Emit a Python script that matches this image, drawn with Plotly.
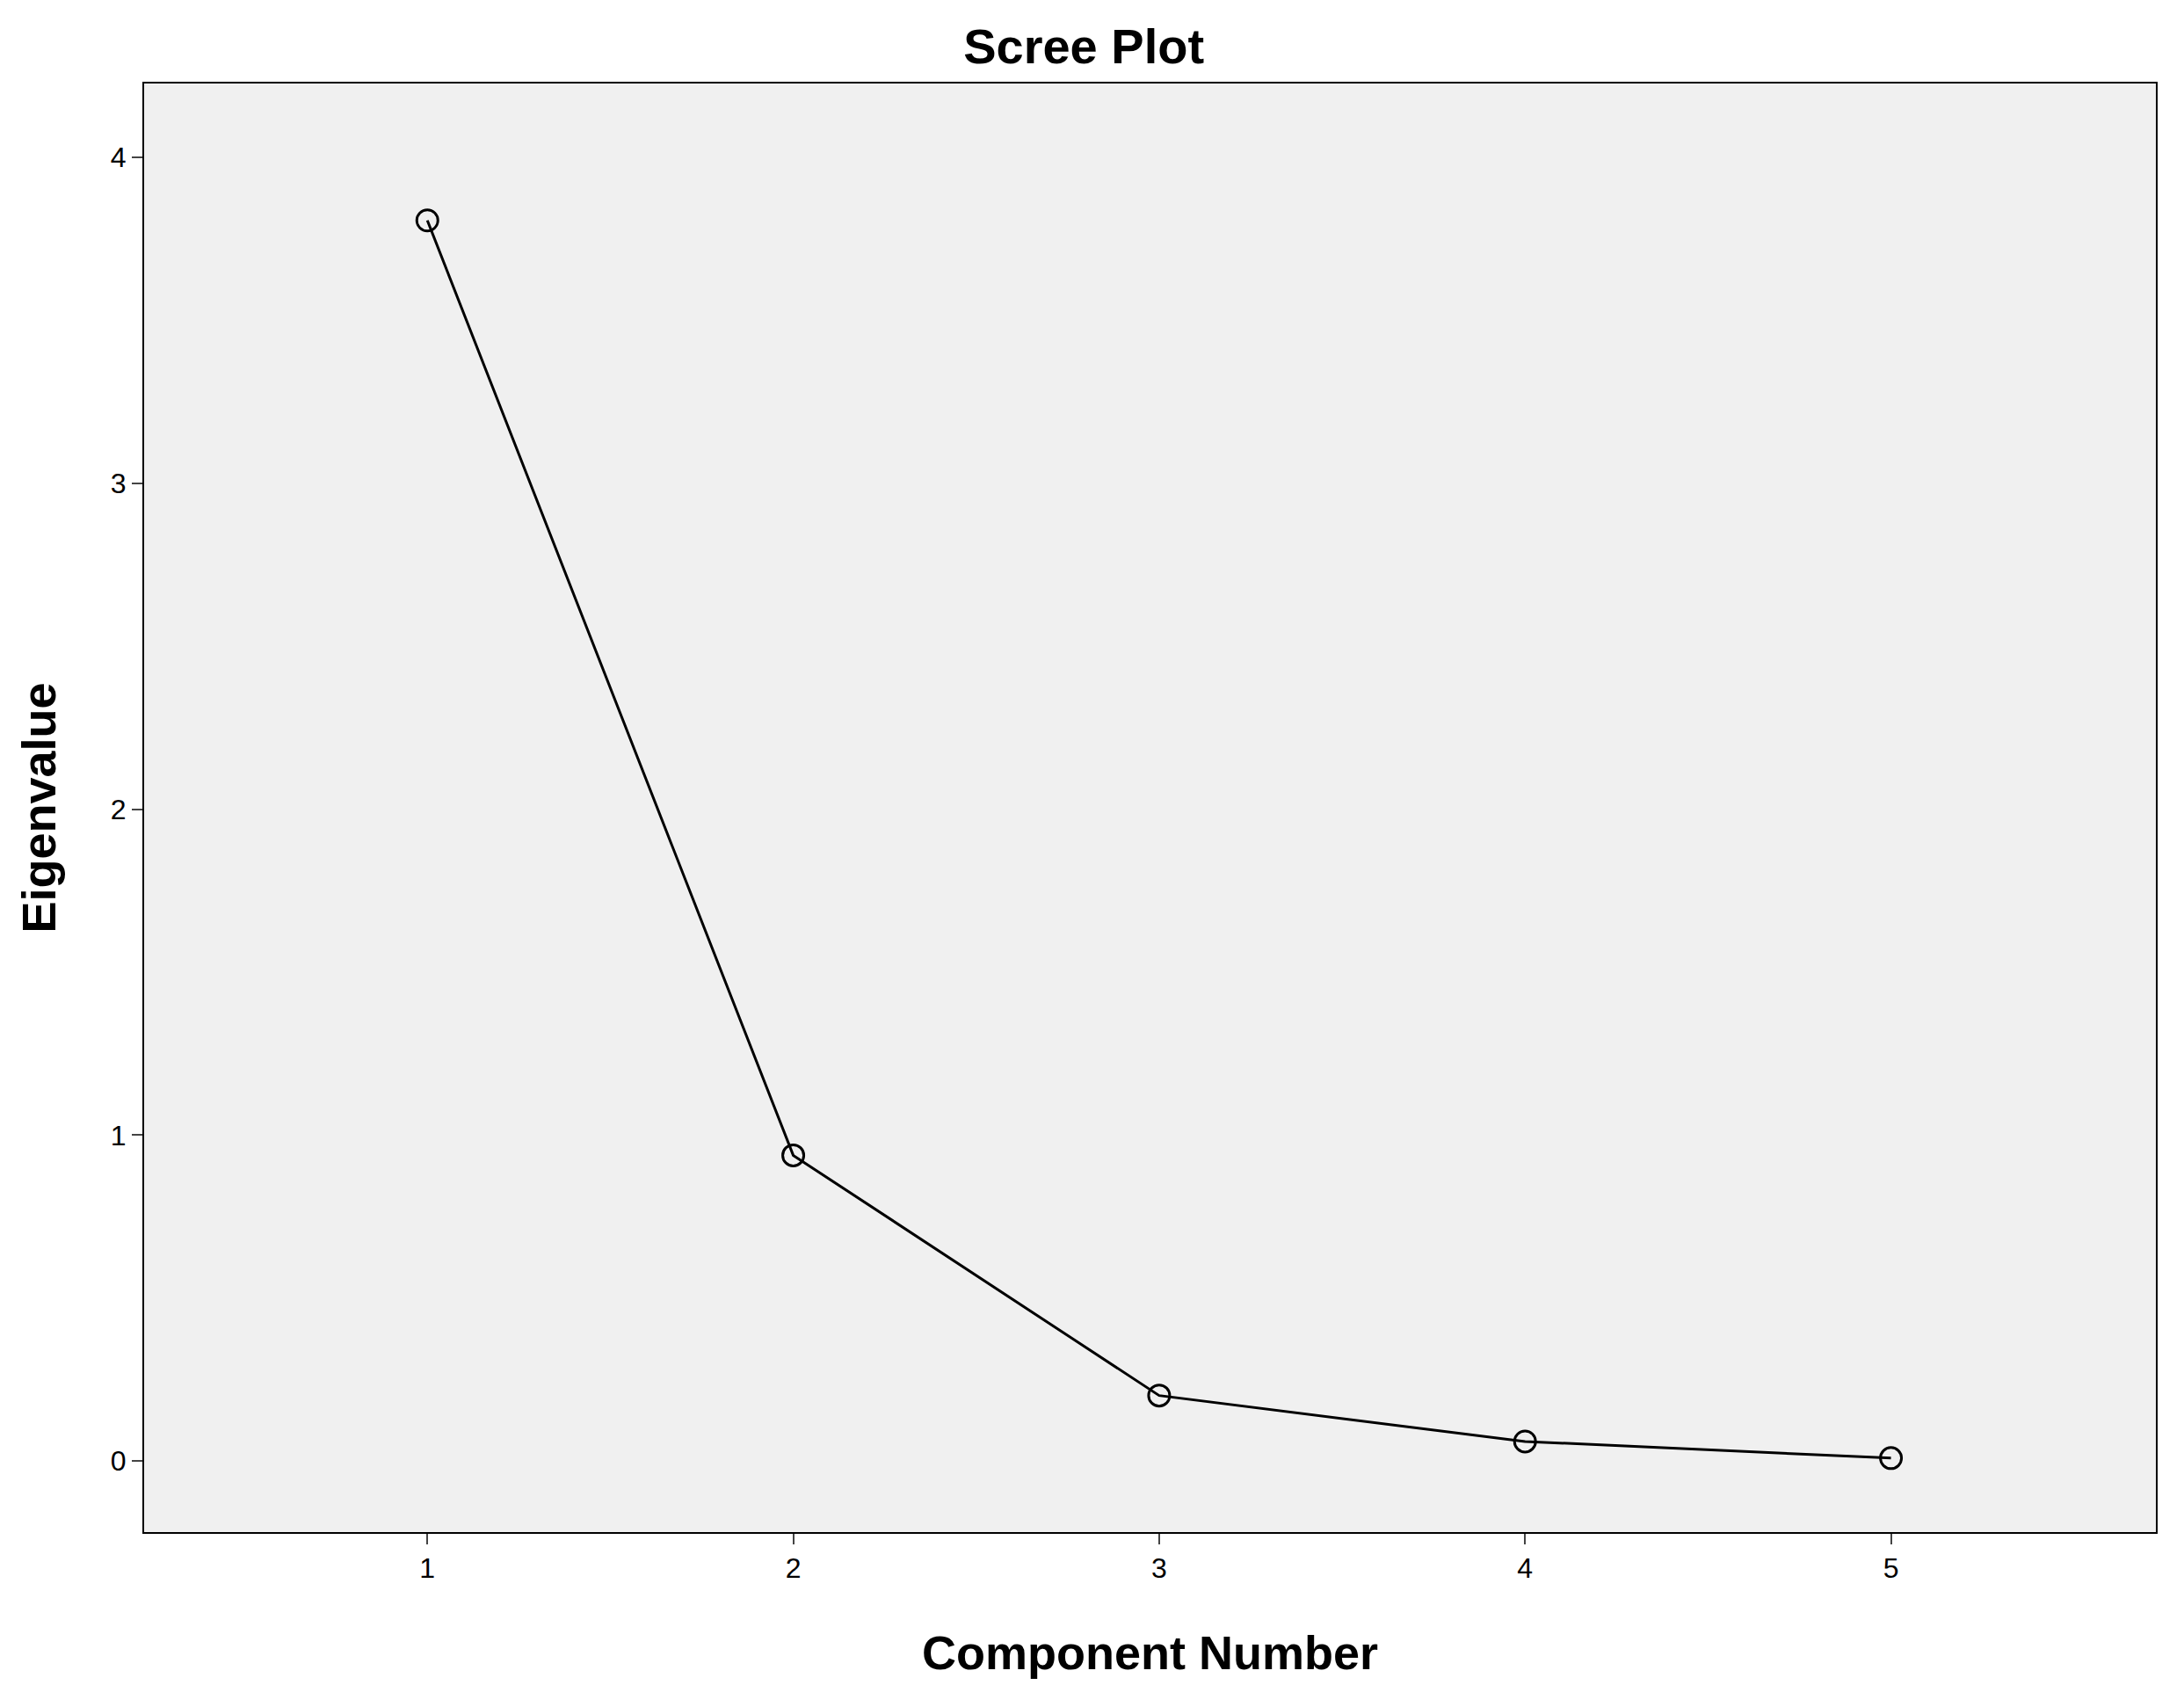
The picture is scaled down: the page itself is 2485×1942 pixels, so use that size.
import plotly.graph_objects as go

components = [1, 2, 3, 4, 5]
eigenvalues = [3.807, 0.938, 0.201, 0.060, 0.009]
y_ticks = [0, 1, 2, 3, 4]

fig = go.Figure(go.Scatter(
    x=components, y=eigenvalues, mode="lines+markers",
    line=dict(color="black", width=3),
    marker=dict(symbol="circle-open", size=24, color="black", line=dict(width=3)),
))
fig.update_layout(
    width=2485, height=1942,
    margin=dict(l=156, r=40, t=87, b=207),
    paper_bgcolor="white", plot_bgcolor="#f0f0f0",
    font=dict(family="Liberation Sans, Arial", color="black"),
    title=dict(text="<b>Scree Plot</b>", x=0.493, xanchor="center", y=0.977, yanchor="middle",
               font=dict(size=56)),
    showlegend=False,
)
fig.update_xaxes(range=[0.226, 5.724], tickvals=components, ticks="outside", ticklen=12,
                 tickwidth=2, tickfont=dict(size=32), showgrid=False, zeroline=False,
                 showline=True, linecolor="black", linewidth=2, mirror=True,
                 title=dict(text="<b>Component Number</b>", font=dict(size=54), standoff=60))
fig.update_yaxes(range=[-0.218, 4.227], tickvals=y_ticks, ticks="outside", ticklen=12,
                 tickwidth=2, tickfont=dict(size=32), showgrid=False, zeroline=False,
                 showline=True, linecolor="black", linewidth=2, mirror=True,
                 title=dict(text="<b>Eigenvalue</b>", font=dict(size=54), standoff=45))
fig.write_html("out.html")
